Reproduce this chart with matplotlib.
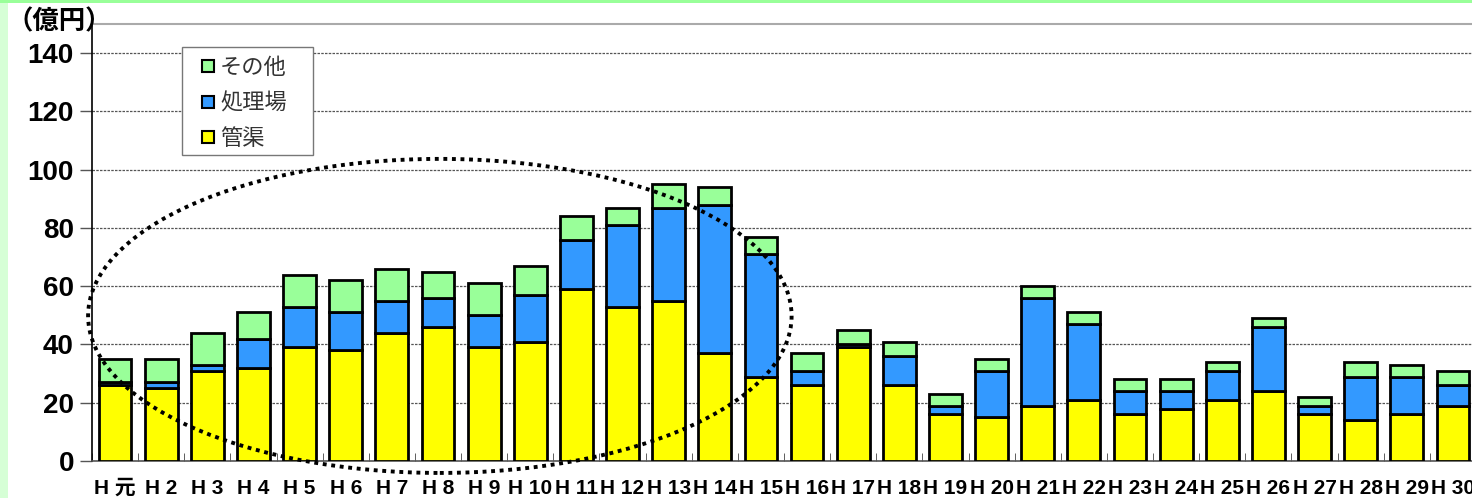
import matplotlib.pyplot as plt
import numpy as np
from matplotlib.patches import Ellipse, Rectangle
from matplotlib.lines import Line2D

plt.rcParams['font.family'] = ['Liberation Sans', 'Noto Sans CJK JP']

# 年度ラベル（平成）
years = ["元"] + [str(n) for n in range(2, 31)]

# 事業費（億円）
kankyo = [26, 25, 31, 32, 39, 38, 44, 46, 39, 41,
          59, 53, 55, 37, 29, 26, 39, 26, 16, 15,
          19, 21, 16, 18, 21, 24, 16, 14, 16, 19]
shorijo = [1, 2, 2, 10, 14, 13, 11, 10, 11, 16,
           17, 28, 32, 51, 42, 5, 1, 10, 3, 16,
           37, 26, 8, 6, 10, 22, 3, 15, 13, 7]
sonota = [8, 8, 11, 9, 11, 11, 11, 9, 11, 10,
          8, 6, 8, 6, 6, 6, 5, 5, 4, 4,
          4, 4, 4, 4, 3, 3, 3, 5, 4, 5]

c_kan = "#FFFF00"
c_sho = "#3399FF"
c_son = "#99FF99"

kankyo = np.array(kankyo)
shorijo = np.array(shorijo)
sonota = np.array(sonota)
x = np.arange(len(years))

W, H = 1472, 498
fig = plt.figure(figsize=(W / 100, H / 100), dpi=100)
# 左端の帯と上端の線
fig.patches.append(Rectangle((0, 0), 8 / W, 1, transform=fig.transFigure,
                             facecolor="#d6ffd6", edgecolor="none", zorder=0))
fig.patches.append(Rectangle((0, 1 - 3 / H), 1, 3 / H, transform=fig.transFigure,
                             facecolor="#99ff99", edgecolor="none", zorder=0))

ax = fig.add_axes([92 / W, 37 / H, 1384 / W, 437 / H])

w = 0.71
kw = dict(width=w, edgecolor="black", linewidth=2, zorder=3)
ax.bar(x, kankyo, color=c_kan, **kw)
ax.bar(x, shorijo, bottom=kankyo, color=c_sho, **kw)
ax.bar(x, sonota, bottom=kankyo + shorijo, color=c_son, **kw)

ax.set_xlim(-0.5, len(years) - 0.5)
ax.set_ylim(0, 150)
ax.set_yticks(np.arange(0, 141, 20))
ax.set_yticklabels([str(v) for v in range(0, 141, 20)], fontsize=20, fontweight="bold")
ax.yaxis.grid(True, linestyle=(0, (2, 1)), color="#555555", linewidth=0.9)
ax.set_axisbelow(True)
ax.tick_params(axis="y", length=9, width=1, color="#555555", pad=4)

ax.set_xticks(x)
ax.set_xticklabels(["H " + y for y in years], fontsize=15, fontweight="bold")
ax.tick_params(axis="x", length=0, pad=13)
ax.set_xticks(np.arange(-0.5, len(years), 1), minor=True)
ax.tick_params(axis="x", which="minor", direction="in", length=6, color="#444444")

ax.spines["right"].set_visible(False)
ax.spines["top"].set_color("#aaaaaa")
ax.spines["top"].set_linewidth(1.5)
ax.spines["left"].set_color("black")
ax.spines["left"].set_linewidth(1.2)
ax.spines["bottom"].set_color("#555555")
ax.spines["bottom"].set_linewidth(1.2)

# 点線の楕円
ell = Ellipse((7.04, 49.8), 15.25, 107.8, fill=False, edgecolor="black",
              linewidth=2.8, linestyle=(0, (1, 1.2)), zorder=5, clip_on=False)
ax.add_patch(ell)

fig.text(6 / W, 1 - 22 / H, "（億円）", fontsize=19, fontweight="bold",
         family=["Noto Sans CJK JP"], va="center", ha="left")

# 凡例：枠は別に描く
ax.add_patch(Rectangle((182 / W, 1 - 155 / H), 131 / W, 108 / H,
                       transform=fig.transFigure, facecolor="white",
                       edgecolor="#777777", linewidth=1, zorder=6, clip_on=False))
handles = [Line2D([], [], marker="s", linestyle="none", markersize=9,
                  markerfacecolor=c, markeredgecolor="black", markeredgewidth=1.5)
           for c in (c_son, c_sho, c_kan)]
leg = ax.legend(handles, ["その他", "処理場", "管渠"], loc="upper left",
                bbox_to_anchor=(200 / W, 1 - 56 / H), bbox_transform=fig.transFigure,
                borderaxespad=0, borderpad=0, frameon=False,
                handlelength=0.7, handletextpad=0.2, labelspacing=0.56,
                prop={"family": ["Noto Sans CJK JP"], "size": 16})
leg.set_zorder(7)
for t in leg.get_texts():
    t.set_color("#333333")

fig.savefig("out.png", dpi=100)
